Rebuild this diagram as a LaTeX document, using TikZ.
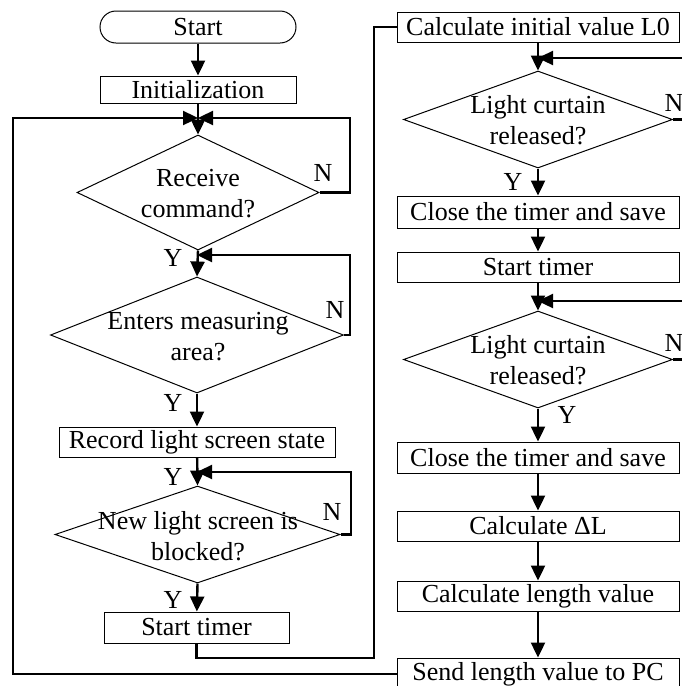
\documentclass[tikz,border=0pt]{standalone}
\usepackage{fontspec}
\setmainfont{Liberation Serif}
\usetikzlibrary{shapes.geometric,arrows.meta}
\tikzset{
  every node/.style={font=\fontsize{26}{31}\selectfont},
  box/.style={draw, line width=1pt, inner sep=0pt, minimum height=#1},
  lbox/.style={box=#1, minimum width=196pt},
  rbox/.style={box=#1, minimum width=282pt},
  dia/.style={draw, diamond, line width=1pt, inner sep=0pt},
  dtext/.style={align=center, inner sep=0pt},
  lab/.style={inner sep=0pt},
  conn/.style={line width=2.4pt},
  arr/.style={conn, -{Triangle[length=15pt,width=14pt]}},
}
\begin{document}
\begin{tikzpicture}[x=1pt,y=-1pt]
\useasboundingbox (0,0) rectangle (682,686);
\clip (0,0) rectangle (682,686);
% left column
\node[lbox=32pt, rounded corners=16pt] (start) at (198,27) {Start};
\node[lbox=27pt] (init) at (198,89.5) {Initialization};
\node[dia, minimum width=242pt, minimum height=115pt] (d1) at (198,192.5) {};
\node[dtext] at (198,194) {Receive\\command?};
\node[dia, minimum width=293pt, minimum height=116pt] (d2) at (197,335) {};
\node[dtext] at (198,337) {Enters measuring\\area?};
\node[box=30pt, minimum width=276pt] (rec) at (197,442) {Record light screen state};
\node[dia, minimum width=285pt, minimum height=97pt] (d3) at (197.5,534.5) {};
\node[dtext] at (198,536) {New light screen is\\blocked?};
\node[box=31pt, minimum width=185pt] (st1) at (196.5,627.5) {Start timer};
% right column
\node[rbox=30pt] (calc0) at (538,27) {Calculate initial value L0};
\node[dia, minimum width=269pt, minimum height=97pt] (r1) at (538,119.5) {};
\node[dtext] at (538,120) {Light curtain\\released?};
\node[rbox=32pt] (close1) at (538,212) {Close the timer and save};
\node[rbox=30pt] (st2) at (538,267) {Start timer};
\node[dia, minimum width=269pt, minimum height=97pt] (r2) at (538,359.5) {};
\node[dtext] at (538,360) {Light curtain\\released?};
\node[rbox=31pt] (close2) at (538,457.5) {Close the timer and save};
\node[rbox=30pt] (dl) at (538,526) {Calculate ΔL};
\node[rbox=30pt] (len) at (538,596) {Calculate length value};
\node[rbox=32pt] (send) at (538,674) {Send length value to PC};
% labels
\node[lab] at (323,173) {N};
\node[lab] at (173,258) {Y};
\node[lab] at (335,310) {N};
\node[lab] at (173,403) {Y};
\node[lab] at (173,477) {Y};
\node[lab] at (332,512) {N};
\node[lab] at (173,600) {Y};
\node[lab] at (674,103) {N};
\node[lab] at (513,182) {Y};
\node[lab] at (674,343) {N};
\node[lab] at (567,415) {Y};
% merge points
\coordinate (m1) at (198,118);
\coordinate (m2) at (197,255);
\coordinate (m3) at (197,472);
\coordinate (mr1) at (538,58);
\coordinate (mr2) at (538,301);
\coordinate (e1) at (683,119.5);
\coordinate (e1a) at (683,58);
\coordinate (e2) at (683,359.5);
\coordinate (e2a) at (683,301);
% vertical arrows
\draw[arr] (start) -- (init);
\draw[arr] (init) -- (d1.north);
\draw[arr] (d1.south) -- (d2.north);
\draw[arr] (d2.south) -- (rec);
\draw[arr] (rec) -- (d3.north);
\draw[arr] (d3.south) -- (st1);
\draw[arr] (calc0) -- (r1.north);
\draw[arr] (r1.south) -- (close1);
\draw[arr] (close1) -- (st2);
\draw[arr] (st2) -- (r2.north);
\draw[arr] (r2.south) -- (close2);
\draw[arr] (close2) -- (dl);
\draw[arr] (dl) -- (len);
\draw[arr] (len) -- (send);
% loops
\draw[arr] (d1.east) -- (350,192.5) -- (350,118) -- (m1);
\draw[arr] (send.west) -- (13,674) -- (13,118) -- (m1);
\draw[arr] (d2.east) -- (350,335) -- (350,255) -- (m2);
\draw[arr] (d3.east) -- (351,534.5) -- (351,472) -- (m3);
\draw[conn] (st1.south) -- (196.5,658) -- (374,658) -- (374,27) -- (calc0.west);
\draw[conn] (r1.east) -- (e1);
\draw[arr] (e1a) -- (mr1);
\draw[conn] (r2.east) -- (e2);
\draw[arr] (e2a) -- (mr2);
\end{tikzpicture}
\end{document}
